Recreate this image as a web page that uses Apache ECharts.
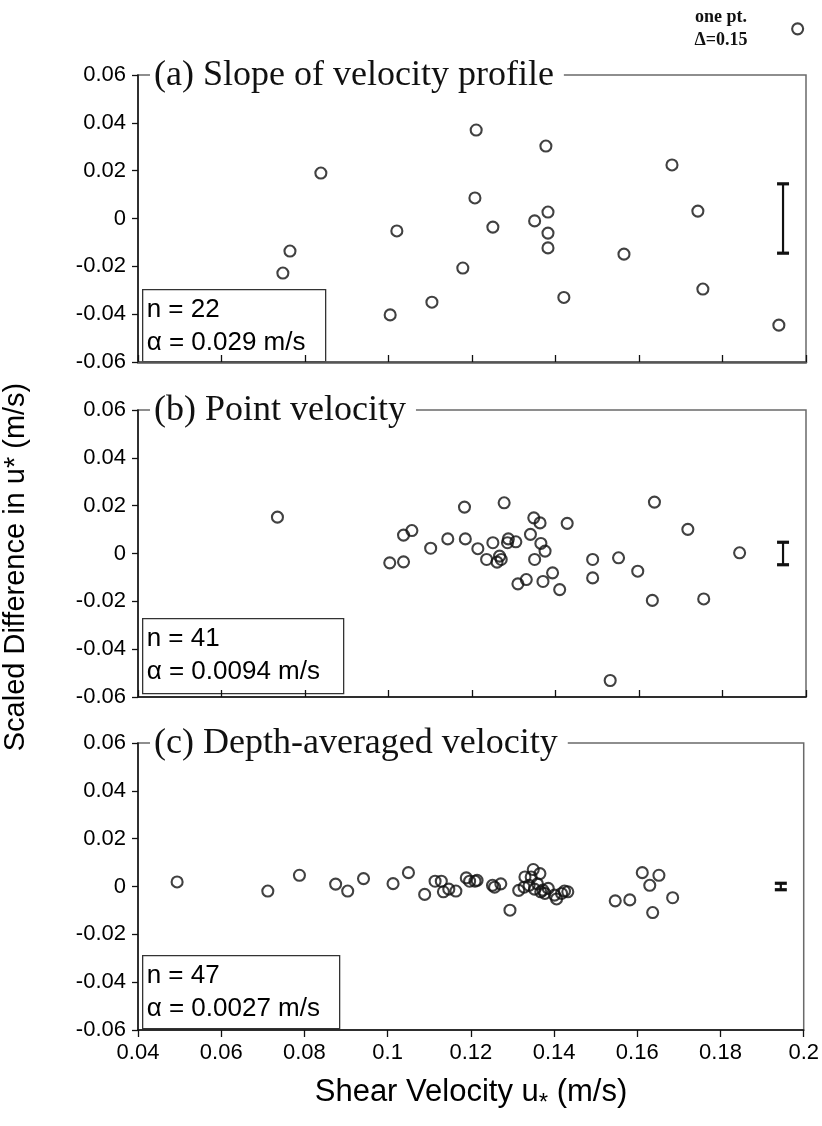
<!DOCTYPE html>
<html><head><meta charset="utf-8">
<script src="https://cdn.jsdelivr.net/npm/echarts@6/dist/echarts.min.js"></script>
<style>html,body{margin:0;padding:0;background:#fff}#c{width:822px;height:1126px}</style>
</head><body><div id="c"></div>
<script>
// ---- data ----
const xTicks = [0.04, 0.06, 0.08, 0.1, 0.12, 0.14, 0.16, 0.18, 0.2];
const yTicks = [-0.06, -0.04, -0.02, 0, 0.02, 0.04, 0.06];
const panelTitles = ['(a) Slope of velocity profile', '(b) Point velocity', '(c) Depth-averaged velocity'];
const statsA = ['n = 22', 'α = 0.029 m/s'];
const statsB = ['n = 41', 'α = 0.0094 m/s'];
const statsC = ['n = 47', 'α = 0.0027 m/s'];
const seriesA = [
  [0.0838,0.019],[0.0764,-0.0136],[0.0747,-0.0228],[0.102,-0.0052],[0.1004,-0.0403],
  [0.1104,-0.035],[0.121,0.037],[0.1207,0.0086],[0.1178,-0.0207],[0.125,-0.0036],
  [0.135,-0.001],[0.1377,0.0303],[0.1382,0.0027],[0.1382,-0.0061],[0.1382,-0.0123],
  [0.142,-0.033],[0.1564,-0.0149],[0.1679,0.0224],[0.1741,0.0031],[0.1753,-0.0295],
  [0.1935,-0.0446]
];
const outlierA = [[0.198, 0.0793]]; // "one pt. Δ=0.15", drawn off-scale
const seriesB = [
  [0.0734,0.0152],[0.1003,-0.0039],[0.1036,-0.0035],[0.1036,0.0077],[0.1056,0.0096],
  [0.1101,0.0022],[0.1142,0.0061],[0.1182,0.0194],[0.1184,0.0061],[0.1214,0.002],
  [0.1235,-0.0025],[0.125,0.0045],[0.126,-0.0036],[0.127,-0.0025],[0.1277,0.0212],
  [0.1285,0.0045],[0.1287,0.0061],[0.1305,0.0049],[0.131,-0.0127],[0.133,-0.0109],
  [0.134,0.008],[0.1348,0.0149],[0.135,-0.0025],[0.1363,0.0128],[0.1365,0.0042],
  [0.137,-0.0117],[0.1375,0.001],[0.1393,-0.0081],[0.141,-0.0151],[0.1428,0.0126],
  [0.1489,-0.0025],[0.1489,-0.0102],[0.1551,-0.0018],[0.1597,-0.0074],[0.1632,-0.0196],
  [0.1637,0.0215],[0.1717,0.0101],[0.1755,-0.019],[0.1841,0.0003],[0.1531,-0.0531],
  [0.1266,-0.0011]
];
const seriesC = [
  [0.0494,0.0019],[0.0712,-0.0019],[0.0788,0.0047],[0.0875,0.001],[0.0904,-0.0019],
  [0.0942,0.0033],[0.1013,0.0012],[0.105,0.0058],[0.1089,-0.0033],[0.1114,0.0022],
  [0.1129,0.0022],[0.1134,-0.0022],[0.1147,-0.0011],[0.1164,-0.0019],[0.1189,0.0036],
  [0.1197,0.0022],[0.121,0.0022],[0.1215,0.0026],[0.1252,0.0005],[0.1257,-0.0003],
  [0.1272,0.0011],[0.1294,-0.0099],[0.1315,-0.0016],[0.1328,-0.0003],[0.133,0.004],
  [0.1345,0.004],[0.135,0.0071],[0.1353,-0.0011],[0.136,0.0011],[0.1366,0.0054],
  [0.1368,-0.0022],[0.1378,-0.0029],[0.1386,-0.0008],[0.1401,-0.0036],[0.1406,-0.0052],
  [0.1418,-0.0029],[0.1433,-0.0022],[0.1547,-0.006],[0.1582,-0.0056],[0.1612,0.0058],
  [0.163,0.0005],[0.1637,-0.0109],[0.1652,0.0047],[0.1685,-0.0047],
  [0.134,0.0005],[0.1373,-0.0015],[0.1425,-0.0019]
];
// error bars: [x, half-width]
const errA = [[0.1945, 0.0145]];
const errB = [[0.1945, 0.0047]];
const errC = [[0.1945, 0.00135]];

// ---- chart ----
const chart = echarts.init(document.getElementById('c'));
const tops = [75, 410, 743];
const H = 287;
const sans = "'Liberation Sans', Arial, sans-serif";
const serif = "'Liberation Serif', 'Times New Roman', serif";
const ink = '#111';

const grids = tops.map(t => ({left:138, top:t, width:668, height:H, show:true,
  borderColor:'#6a6a6a', borderWidth:1.5, backgroundColor:'transparent'}));

const xAxes = tops.map((t,i) => ({
  type:'value', gridIndex:i, min:xTicks[0], max:xTicks[xTicks.length-1], interval:0.02,
  axisLine:{show:true, onZero:false, lineStyle:{color:i===0?'#555':ink, width:i===0?2.5:1.5}},
  axisTick:{show:true, inside:i<2, length:7, lineStyle:{color:ink, width:1.3}},
  splitLine:{show:false},
  axisLabel:{show:i===2, margin:12, color:'#000', fontFamily:sans, fontSize:22,
    formatter:v=>String(+v.toFixed(2))}
}));
const yAxes = tops.map((t,i) => ({
  type:'value', gridIndex:i, min:yTicks[0], max:yTicks[yTicks.length-1], interval:0.02,
  axisLine:{show:true, onZero:false, lineStyle:{color:ink, width:1.5}},
  axisTick:{show:true, length:6, lineStyle:{color:ink, width:1.3}},
  splitLine:{show:false},
  axisLabel:{margin:12, color:'#000', fontFamily:sans, fontSize:22,
    formatter:v=>{const r=+v.toFixed(2); return r===0?'0':r.toFixed(2);}}
}));

const circ = {symbol:'circle', symbolSize:11,
  itemStyle:{color:'rgba(255,255,255,0)', borderColor:ink, borderWidth:2.1}};
function scatter(i, data, extra){
  return Object.assign({type:'scatter', xAxisIndex:i, yAxisIndex:i, data:data, silent:true}, circ, extra||{});
}
function errbar(i, data){
  return {type:'custom', xAxisIndex:i, yAxisIndex:i, data:data, clip:false, silent:true,
    renderItem:(params, api)=>{
      const x=api.value(0), h=api.value(1);
      const p1=api.coord([x,h]), p2=api.coord([x,-h]);
      const st={stroke:ink, lineWidth:2.2};
      return {type:'group', children:[
        {type:'line', shape:{x1:p1[0],y1:p1[1],x2:p2[0],y2:p2[1]}, style:st},
        {type:'line', shape:{x1:p1[0]-6,y1:p1[1],x2:p1[0]+6,y2:p1[1]}, style:{stroke:ink,lineWidth:3.2}},
        {type:'line', shape:{x1:p2[0]-6,y1:p2[1],x2:p2[0]+6,y2:p2[1]}, style:{stroke:ink,lineWidth:3.2}}
      ]};
    }};
}

const titles = panelTitles.map((t,i)=>({text:t, left:150, top:tops[i]-17,
  backgroundColor:'#fff', padding:[0,10,0,4],
  textStyle:{fontFamily:serif, fontSize:36, fontWeight:'normal', color:ink}}));

function statBox(lines, top, w, h){
  return {type:'group', left:142, top:top, children:[
    {type:'rect', shape:{x:0,y:0,width:w,height:h}, style:{fill:'#fff', stroke:'#333', lineWidth:1.3}},
    {type:'text', x:4, y:4, style:{text:lines.join('\n'), font:"26px "+sans, fill:'#000', lineHeight:33}}
  ]};
}

chart.setOption({
  animation:false,
  grid:grids, xAxis:xAxes, yAxis:yAxes, title:titles,
  series:[
    scatter(0, seriesA),
    scatter(0, outlierA, {clip:false}),
    errbar(0, errA),
    scatter(1, seriesB),
    errbar(1, errB),
    scatter(2, seriesC),
    errbar(2, errC)
  ],
  graphic:[
    statBox(statsA, 289, 183, 72),
    statBox(statsB, 618, 201, 75),
    statBox(statsC, 955, 197, 73),
    {type:'text', x:721, y:6, style:{text:'one pt.\nΔ=0.15', font:"bold 18px "+serif, fill:ink, align:'center', lineHeight:23}},
    {type:'text', x:16, y:567, rotation:Math.PI/2, style:{text:'Scaled Difference in u* (m/s)', font:"29px "+sans, fill:'#000', align:'center', verticalAlign:'middle'}},
    {type:'text', x:471, y:1092, style:{
      text:'{a|Shear Velocity u}{s|*}{a| (m/s)}', align:'center', verticalAlign:'middle',
      rich:{a:{font:"31px "+sans, color:'#000'}, s:{font:"24px "+sans, color:'#000', padding:[22,0,0,0]}}}}
  ]
});
</script></body></html>
